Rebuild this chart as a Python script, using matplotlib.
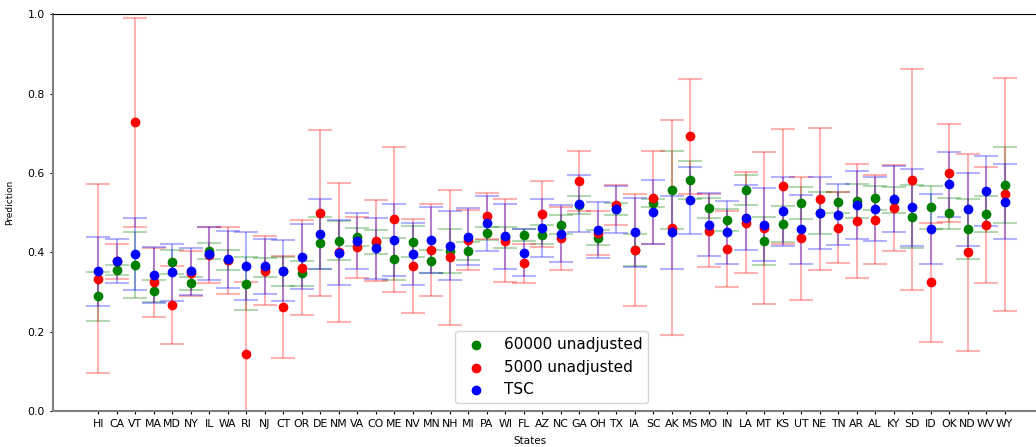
import matplotlib
matplotlib.use('Agg')
import matplotlib.pyplot as plt
import numpy as np

states = ['HI', 'CA', 'VT', 'MA', 'MD', 'NY', 'IL', 'WA', 'RI', 'NJ',
          'CT', 'OR', 'DE', 'NM', 'VA', 'CO', 'ME', 'NV', 'MN', 'NH',
          'MI', 'PA', 'WI', 'FL', 'AZ', 'NC', 'GA', 'OH', 'TX', 'IA',
          'SC', 'AK', 'MS', 'MO', 'IN', 'LA', 'MT', 'KS', 'UT', 'NE',
          'TN', 'AR', 'AL', 'KY', 'SD', 'ID', 'OK', 'ND', 'WV', 'WY']

# 60000 unadjusted
pred_60000 = [.289, .355, .367, .303, .375, .322, .403, .381, .321, .361,
              .352, .347, .424, .429, .439, .427, .383, .427, .377, .403,
              .403, .448, .437, .444, .444, .470, .519, .437, .510, .405,
              .524, .557, .582, .511, .481, .557, .428, .471, .524, .499,
              .526, .530, .537, .532, .490, .513, .498, .458, .496, .569]
err_60000 = [.062, .013, .083, .028, .030, .016, .020, .026, .067, .024,
             .036, .032, .066, .049, .023, .030, .053, .039, .028, .056,
             .023, .017, .027, .015, .024, .023, .022, .019, .015, .040,
             .010, .098, .047, .025, .027, .037, .060, .045, .040, .053,
             .026, .043, .031, .032, .079, .053, .038, .076, .045, .096]

# 5000 unadjusted
pred_5000 = [.334, .377, .728, .325, .267, .347, .393, .380, .144, .354,
             .262, .361, .500, .400, .413, .429, .483, .366, .406, .387,
             .431, .492, .429, .372, .497, .435, .580, .448, .519, .405,
             .538, .462, .692, .455, .408, .475, .461, .566, .436, .534,
             .462, .479, .482, .512, .583, .324, .600, .400, .468, .546]
err_5000 = [.238, .045, .263, .087, .099, .057, .070, .084, .180, .086,
            .128, .120, .209, .175, .077, .102, .182, .119, .116, .171,
            .076, .058, .105, .050, .083, .079, .076, .055, .050, .141,
            .117, .271, .145, .091, .095, .127, .192, .144, .155, .179,
            .090, .144, .112, .108, .278, .150, .124, .248, .146, .294]

# TSC
pred_tsc = [.352, .378, .395, .343, .350, .352, .397, .382, .365, .365,
            .354, .389, .447, .399, .429, .410, .431, .395, .431, .417,
            .439, .473, .440, .399, .461, .447, .522, .456, .508, .450,
            .501, .450, .531, .470, .450, .487, .469, .503, .458, .500,
            .495, .519, .509, .535, .513, .459, .571, .508, .554, .528]
err_tsc = [.087, .056, .091, .070, .072, .060, .066, .072, .086, .069,
           .076, .082, .088, .082, .071, .076, .090, .078, .082, .088,
           .072, .070, .081, .059, .073, .072, .072, .071, .060, .087,
           .081, .091, .084, .079, .079, .082, .092, .087, .087, .091,
           .076, .085, .081, .083, .096, .089, .083, .093, .088, .095]

x = np.arange(len(states))

fig = plt.figure(figsize=(10.36, 4.47), dpi=100)
ax = fig.add_axes([53 / 1036, 36 / 447, 997 / 1036, 396.7 / 447])

series = [
    (pred_60000, err_60000, 'green', '60000 unadjusted'),
    (pred_5000, err_5000, 'red', '5000 unadjusted'),
    (pred_tsc, err_tsc, 'blue', 'TSC'),
]

# error bars first, dots on top
for y, e, c, lab in series:
    ax.errorbar(x, y, yerr=e, fmt='none', ecolor=c, alpha=0.3,
                capsize=8.5, elinewidth=1.5, capthick=1.5)
for y, e, c, lab in series:
    ax.scatter(x, y, color=c, s=36, label=lab, zorder=3)

ax.set_xticks(x)
ax.set_xticklabels(states)
ax.set_xlim(-2.45, 51.45)
ax.set_ylim(0, 1.0)
ax.set_yticks([0.0, 0.2, 0.4, 0.6, 0.8, 1.0])
ax.tick_params(axis='both', labelsize=7.8, length=2.5)

ax.set_xlabel('States', fontsize=7.5)
ax.set_ylabel('Prediction', fontsize=6.5)
ax.xaxis.set_label_coords(0.478, -0.062)
ax.yaxis.set_label_coords(-0.039, 0.527)

ax.spines['right'].set_visible(False)
ax.spines['top'].set_color('black')
ax.spines['left'].set_color('gray')
ax.spines['bottom'].set_color('gray')
ax.spines['left'].set_linewidth(1.5)
ax.spines['bottom'].set_linewidth(1.5)

ax.legend(loc='lower center', fontsize=11)

fig.savefig('out.png', dpi=100)
